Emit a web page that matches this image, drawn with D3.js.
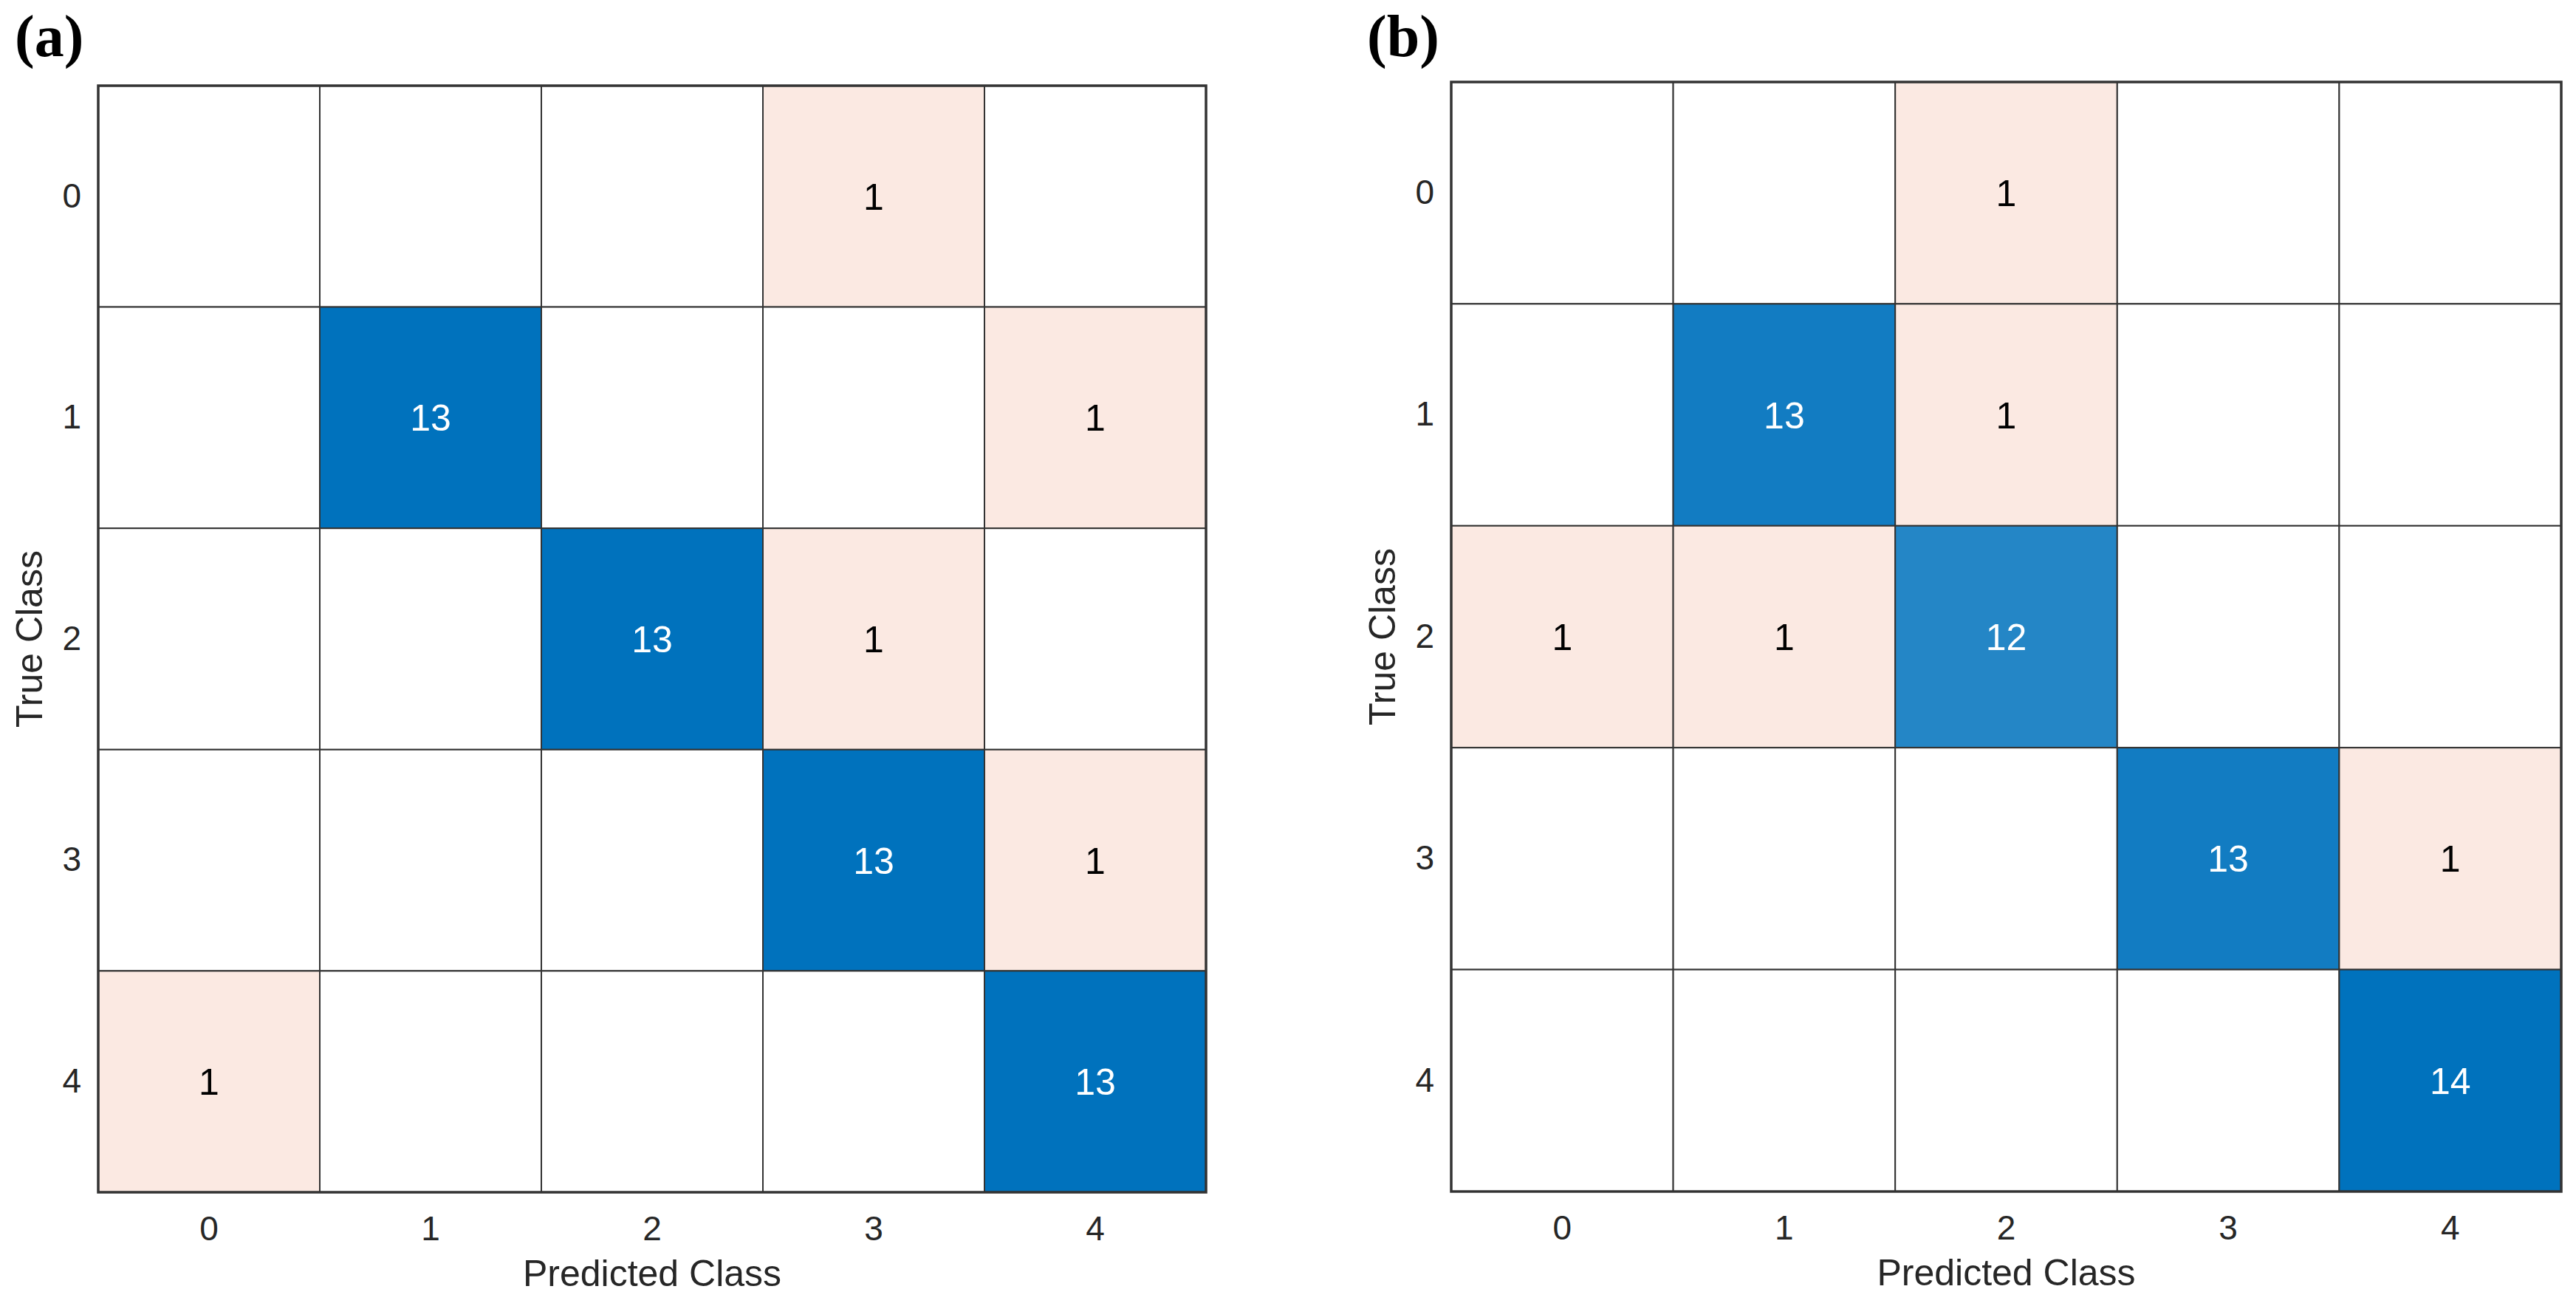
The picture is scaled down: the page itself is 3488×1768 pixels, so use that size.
<!DOCTYPE html>
<html>
<head>
<meta charset="utf-8">
<script src="https://cdn.jsdelivr.net/npm/d3@7"></script>
<style>
  body { margin: 0; background: #fff; }
  svg { display: block; }
</style>
</head>
<body>
<svg id="chart" width="3488" height="1768"></svg>
<script>
// class names shown on both axes
var classes = ["0", "1", "2", "3", "4"];

// rows = true class, columns = predicted class
var matrixA = [
  [0, 0, 0, 1, 0],
  [0, 13, 0, 0, 1],
  [0, 0, 13, 1, 0],
  [0, 0, 0, 13, 1],
  [1, 0, 0, 0, 13]
];
var matrixB = [
  [0, 0, 1, 0, 0],
  [0, 13, 1, 0, 0],
  [1, 1, 12, 0, 0],
  [0, 0, 0, 13, 1],
  [0, 0, 0, 0, 14]
];

var panels = [
  { tag: "(a)", data: matrixA, left: 133, top: 116, width: 1500, height: 1498, tagX: 20 },
  { tag: "(b)", data: matrixB, left: 1965, top: 111, width: 1503, height: 1502, tagX: 1851 }
];

var svg = d3.select("#chart");
var sans = "'Liberation Sans', Arial, Helvetica, sans-serif";

function drawPanel(p) {
  var g = svg.append("g")
    .attr("transform", "translate(" + p.left + "," + p.top + ")");

  var x = d3.scaleBand().domain(classes).range([0, p.width]);
  var y = d3.scaleBand().domain(classes).range([0, p.height]);

  // flatten matrix to cells
  var cells = [];
  p.data.forEach(function (row, i) {
    row.forEach(function (v, j) {
      cells.push({ t: classes[i], pr: classes[j], v: v, diag: i === j });
    });
  });

  var diagMax = d3.max(cells.filter(function (d) { return d.diag; }), function (d) { return d.v; });
  var offMax = d3.max(cells.filter(function (d) { return !d.diag; }), function (d) { return d.v; });
  var diagColor = d3.scaleLinear().domain([0, diagMax]).range(["#ffffff", "#0072bd"]);
  var offColor = d3.scaleLinear().domain([0, offMax]).range(["#ffffff", "#fbe9e2"]);

  g.selectAll("rect.cell")
    .data(cells)
    .enter()
    .append("rect")
    .attr("class", "cell")
    .attr("x", function (d) { return x(d.pr); })
    .attr("y", function (d) { return y(d.t); })
    .attr("width", x.bandwidth())
    .attr("height", y.bandwidth())
    .attr("fill", function (d) {
      if (d.v === 0) return "#ffffff";
      return d.diag ? diagColor(d.v) : offColor(d.v);
    })
    .attr("stroke", "#333333")
    .attr("stroke-width", 2);

  g.selectAll("text.val")
    .data(cells.filter(function (d) { return d.v > 0; }))
    .enter()
    .append("text")
    .attr("class", "val")
    .attr("x", function (d) { return x(d.pr) + x.bandwidth() / 2; })
    .attr("y", function (d) { return y(d.t) + y.bandwidth() / 2; })
    .attr("dy", "0.36em")
    .attr("text-anchor", "middle")
    .attr("font-family", sans)
    .attr("font-size", 50)
    .attr("fill", function (d) { return d.diag ? "#ffffff" : "#000000"; })
    .text(function (d) { return d.v; });

  // outer border
  g.append("rect")
    .attr("width", p.width)
    .attr("height", p.height)
    .attr("fill", "none")
    .attr("stroke", "#333333")
    .attr("stroke-width", 3.5);

  // X axis
  var xAxis = g.append("g")
    .attr("transform", "translate(0," + p.height + ")")
    .call(d3.axisBottom(x).tickSize(0).tickPadding(32));
  xAxis.select(".domain").remove();
  xAxis.selectAll("text")
    .attr("font-family", sans)
    .attr("font-size", 46)
    .attr("fill", "#262626");

  // Y axis
  var yAxis = g.append("g")
    .call(d3.axisLeft(y).tickSize(0).tickPadding(23));
  yAxis.select(".domain").remove();
  yAxis.selectAll("text")
    .attr("font-family", sans)
    .attr("font-size", 46)
    .attr("fill", "#262626");

  // axis titles
  g.append("text")
    .attr("x", p.width / 2)
    .attr("y", p.height + 127)
    .attr("text-anchor", "middle")
    .attr("font-family", sans)
    .attr("font-size", 50)
    .attr("fill", "#262626")
    .text("Predicted Class");

  g.append("text")
    .attr("transform", "translate(-76," + (p.height / 2) + ") rotate(-90)")
    .attr("text-anchor", "middle")
    .attr("font-family", sans)
    .attr("font-size", 50)
    .attr("fill", "#262626")
    .text("True Class");

  // panel tag
  svg.append("text")
    .attr("x", p.tagX)
    .attr("y", 76)
    .attr("font-family", "'Liberation Serif', 'Times New Roman', serif")
    .attr("font-weight", "bold")
    .attr("font-size", 80)
    .attr("fill", "#000000")
    .text(p.tag);
}

panels.forEach(drawPanel);
</script>
</body>
</html>
